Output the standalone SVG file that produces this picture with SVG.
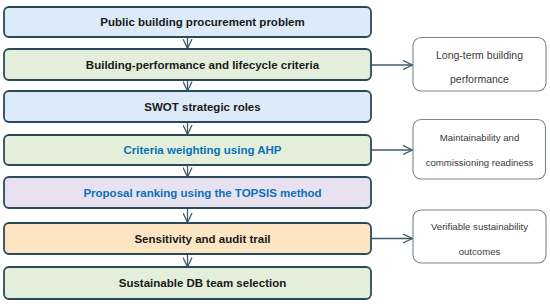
<svg xmlns="http://www.w3.org/2000/svg" width="550" height="304" viewBox="0 0 550 304">
<style>
.box{stroke:#2b4a58;stroke-width:1.8}
.side{fill:#ffffff;stroke:#76858d;stroke-width:1.1}
.t{font-family:"Liberation Sans",Arial,sans-serif;font-weight:bold;font-size:11.5px;fill:#1a1a1a;text-anchor:middle;dominant-baseline:central}
.tb{fill:#0a72b8}
.s{font-family:"Liberation Sans",Arial,sans-serif;font-size:9.6px;fill:#3a3a3a;text-anchor:middle;dominant-baseline:central}
.s2{font-size:10.5px}
.c{stroke:#3d5c69;stroke-width:1.3;fill:none}
</style>
<defs>
<marker id="ah" markerUnits="userSpaceOnUse" markerWidth="11" markerHeight="10" refX="10" refY="5" orient="auto" viewBox="0 0 11 10">
<path d="M0.5,0.5 L10,5 L0.5,9.5" fill="none" stroke="#3d5c69" stroke-width="1.3"/>
</marker>
</defs>
<g id="connectors">
<line class="c" x1="187.5" y1="37" x2="187.5" y2="48.5" marker-end="url(#ah)"/>
<line class="c" x1="187.5" y1="80" x2="187.5" y2="91" marker-end="url(#ah)"/>
<line class="c" x1="187.5" y1="122" x2="187.5" y2="134.5" marker-end="url(#ah)"/>
<line class="c" x1="187.5" y1="165" x2="187.5" y2="177" marker-end="url(#ah)"/>
<line class="c" x1="187.5" y1="208" x2="187.5" y2="222.5" marker-end="url(#ah)"/>
<line class="c" x1="187.5" y1="254" x2="187.5" y2="267" marker-end="url(#ah)"/>
<line class="c" x1="371" y1="65" x2="412.5" y2="65" marker-end="url(#ah)"/>
<line class="c" x1="371" y1="150" x2="412.5" y2="150" marker-end="url(#ah)"/>
<line class="c" x1="371" y1="238.5" x2="412.5" y2="238.5" marker-end="url(#ah)"/>
</g>
<g id="n1"><rect class="box" x="4" y="7" width="367" height="30" rx="5" fill="#dcebf7"/><text class="t" x="202.5" y="22">Public building procurement problem</text></g>
<g id="n2"><rect class="box" x="4" y="49" width="367" height="31" rx="5" fill="#e3efdb"/><text class="t" x="202.5" y="64.5">Building-performance and lifecycle criteria</text></g>
<g id="n3"><rect class="box" x="4" y="91" width="367" height="31" rx="5" fill="#dcebf7"/><text class="t" x="202.5" y="106.5">SWOT strategic roles</text></g>
<g id="n4"><rect class="box" x="4" y="135" width="367" height="30" rx="5" fill="#e3efdb"/><text class="t tb" x="202.5" y="150">Criteria weighting using AHP</text></g>
<g id="n5"><rect class="box" x="4" y="177" width="367" height="31" rx="5" fill="#e8e1f0"/><text class="t tb" x="202.5" y="192.5">Proposal ranking using the TOPSIS method</text></g>
<g id="n6"><rect class="box" x="4" y="223" width="367" height="31" rx="5" fill="#fce5c3"/><text class="t" x="202.5" y="238.5">Sensitivity and audit trail</text></g>
<g id="n7"><rect class="box" x="4" y="267" width="367" height="32" rx="5" fill="#e3efdb"/><text class="t" x="202.5" y="283">Sustainable DB team selection</text></g>
<g id="s1"><rect class="side" x="413" y="37.5" width="133" height="53.5" rx="8"/><text class="s s2" x="479.5" y="55">Long-term building</text><text class="s s2" x="479.5" y="79">performance</text></g>
<g id="s2"><rect class="side" x="413" y="119.5" width="132.5" height="59.5" rx="8"/><text class="s" x="479.5" y="137">Maintainability  and</text><text class="s" x="479.5" y="162">commissioning readiness</text></g>
<g id="s3"><rect class="side" x="413" y="210" width="133" height="53" rx="8"/><text class="s" x="479.5" y="226">Verifiable sustainability</text><text class="s" x="479.5" y="251">outcomes</text></g>
</svg>
